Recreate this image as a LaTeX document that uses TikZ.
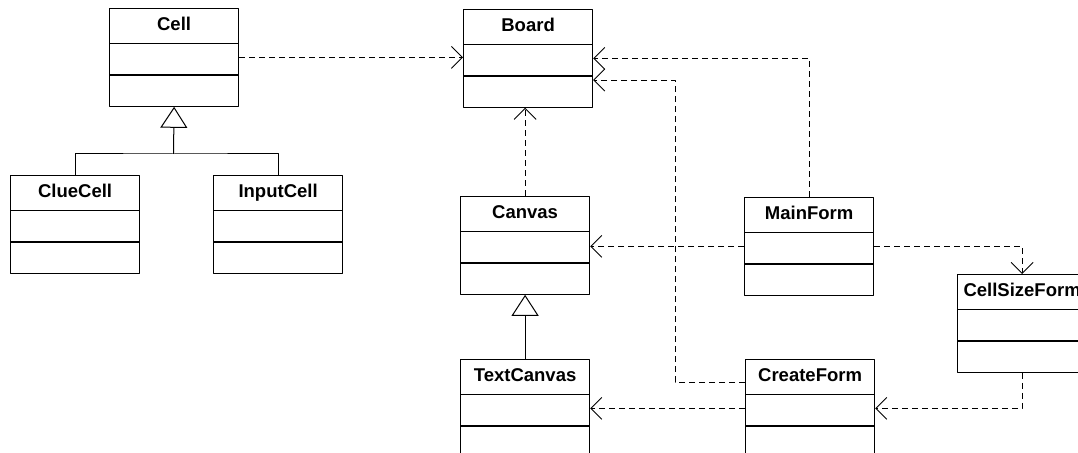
\documentclass[tikz,border=0pt]{standalone}
\usepackage{fontspec}
\setsansfont{Liberation Sans}
\usetikzlibrary{arrows.meta,shapes.multipart}
\newcommand{\umlparts}[1]{\rule[-13bp]{0pt}{34bp}#1\nodepart{second}\rule{0pt}{30bp}\nodepart{third}\rule{0pt}{30bp}}
\begin{document}
\begin{tikzpicture}[line join=bevel,
  umlclass/.style={draw=black,line width=1.2bp,rectangle split,rectangle split parts=3,
    minimum width=129bp,inner sep=0pt,anchor=north west,
    font=\sffamily\bfseries\fontsize{18.5bp}{21bp}\selectfont},
  dep/.style={line width=0.9bp,dash pattern=on 6bp off 4bp,-{Straight Barb[length=11bp,width=22bp]}},
  inherit/.style={line width=1bp,solid},
  gentip/.style={-{Triangle[open,length=21bp,width=27bp,fill=white]}},
]
\useasboundingbox (0bp,0bp) rectangle (1078bp,453bp);
%%
\node (cell) at (109bp,445bp) [umlclass] {\umlparts{Cell}};
  \node (clue_cell) at (10bp,278bp) [umlclass] {\umlparts{ClueCell}};
  \node (input_cell) at (213bp,278bp) [umlclass] {\umlparts{InputCell}};
  \node (board) at (463bp,444bp) [umlclass] {\umlparts{Board}};
  \node (canvas) at (460bp,257bp) [umlclass] {\umlparts{Canvas}};
  \node (main_form) at (744bp,256bp) [umlclass] {\umlparts{MainForm}};
  \node (cell_size_form) at (957bp,179bp) [umlclass] {\umlparts{CellSizeForm}};
  \node (text_canvas) at (460bp,94bp) [umlclass] {\umlparts{TextCanvas}};
  \node (create_form) at (745bp,94bp) [umlclass] {\umlparts{CreateForm}};
  \coordinate (gen_join) at (173.5bp,299bp);
  \coordinate (cf_turn) at (675bp,71bp);
  \coordinate (bd_turn) at (675bp,373bp);
  \draw [inherit] (clue_cell.north) |- (gen_join) -| (input_cell.north);
  \draw [inherit,gentip] (gen_join) -- (cell.south);
  \draw [inherit,gentip] (text_canvas.north) -- (canvas.south);
  \draw [dep] (cell.east) -- (cell.east -| board.west);
  \draw [dep] (canvas.north) -- (canvas.north |- board.south);
  \draw [dep] (main_form.north) |- (board.east);
  \draw [dep] (create_form.west |- cf_turn) -- (cf_turn) -- (bd_turn) -- (board.east |- bd_turn);
  \draw [dep] (main_form.west) -- (main_form.west -| canvas.east);
  \draw [dep] (main_form.east) -| (cell_size_form.north);
  \draw [dep] (cell_size_form.south) |- (create_form.east);
  \draw [dep] (create_form.west) -- (create_form.west -| text_canvas.east);
%
\end{tikzpicture}
\end{document}
